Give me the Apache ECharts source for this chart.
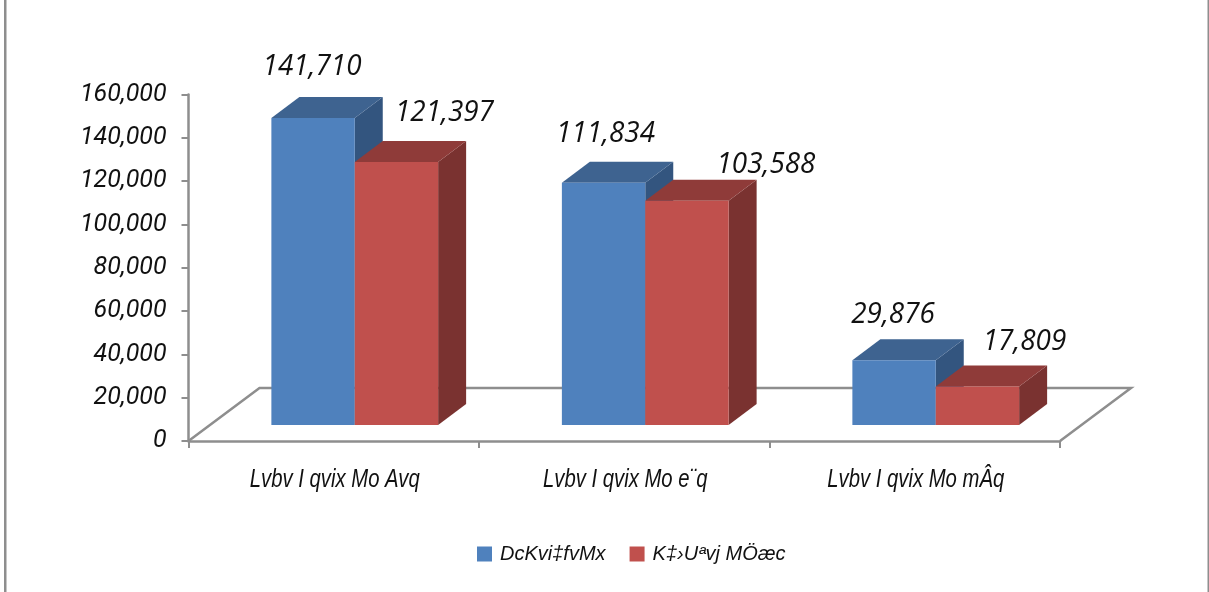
<!DOCTYPE html>
<html><head><meta charset="utf-8">
<style>html,body{margin:0;padding:0;background:#fff}#c{width:1209px;height:592px}</style>
<script src="https://cdn.jsdelivr.net/npm/echarts@6/dist/echarts.min.js"></script>
</head><body><div id="c"></div>
<script>
const categories = ['Lvbv I qvix Mo Avq', 'Lvbv I qvix Mo e¨q', 'Lvbv I qvix Mo mÂq'];
const beneficiary = [141710, 111834, 29876];
const control = [121397, 103588, 17809];
const seriesNames = ['DcKvi‡fvMx', 'K‡›Uªvj MÖæc'];
const yTicks = {min: 0, max: 160000, interval: 20000};

// layout of the pseudo-3D look, in pixels
const GREY = '#8e8e8e';
const floorDx = 71, floorDy = 53;
const depthDx = 28, depthDy = 21;
const baseDx = 21, baseDy = 16;
const barRatio = 0.287;
const blueNudge = [[-1, -51], [2, -49], [-1, -46]];
const redNudge = [[48, -49], [79, -36], [47, -45]];

function barItem(side, colors, nudges) {
  return function (params, api) {
    const i = api.value(0), v = api.value(1);
    const p = api.coord([i, v]), o = api.coord([i, 0]);
    const w = api.size([1, 0])[0] * barRatio;
    const x0 = p[0] + baseDx + (side < 0 ? -w : 0), x1 = x0 + w;
    const yT = p[1] - baseDy, yB = o[1] - baseDy;
    const poly = (pts, fill) => ({type: 'polygon', shape: {points: pts}, style: {fill: fill}});
    return {type: 'group', children: [
      poly([[x1, yT], [x1 + depthDx, yT - depthDy], [x1 + depthDx, yB - depthDy], [x1, yB]], colors[2]),
      poly([[x0, yT], [x0 + depthDx, yT - depthDy], [x1 + depthDx, yT - depthDy], [x1, yT]], colors[1]),
      {type: 'rect', shape: {x: x0, y: yT, width: w, height: yB - yT}, style: {fill: colors[0]}},
      {type: 'text', x: (x0 + x1) / 2 + nudges[i][0], y: yT + nudges[i][1], scaleX: 0.96,
        style: {text: v.toLocaleString('en-US'), fill: '#111', align: 'center', verticalAlign: 'middle',
          font: 'italic 29px "Open Sans"'}}
    ]};
  };
}
function floorItem(params, api) {
  const c = params.coordSys;
  const L = c.x, R = c.x + c.width, B = c.y + c.height;
  return {type: 'polyline', shape: {points: [[L, B], [L + floorDx, B - floorDy], [R + floorDx, B - floorDy], [R, B]]},
    style: {stroke: GREY, lineWidth: 2.5, fill: null}};
}
// condensed category labels: the original face is narrow, so the text is squeezed horizontally
function catLabelItem(params, api) {
  const i = api.value(0);
  const p = api.coord([i, 0]);
  return {type: 'text', x: p[0] + 1, y: p[1] + 39, scaleX: 0.78,
    style: {text: categories[i], fill: '#111', align: 'center', verticalAlign: 'middle',
      font: 'italic 26px "Liberation Sans"'}};
}
const toRows = arr => arr.map((v, i) => [i, v]);

const chart = echarts.init(document.getElementById('c'), null, {renderer: 'canvas'});
chart.setOption({
  animation: false,
  backgroundColor: '#fff',
  grid: {left: 188.5, right: 149, top: 94.5, bottom: 151, containLabel: false},
  xAxis: {type: 'category', data: categories,
    axisLine: {lineStyle: {color: GREY, width: 2.5}},
    axisTick: {show: true, length: 7, lineStyle: {color: GREY, width: 2}},
    axisLabel: {show: false}},
  yAxis: {type: 'value', min: yTicks.min, max: yTicks.max, interval: yTicks.interval,
    splitLine: {show: false},
    axisLine: {show: true, lineStyle: {color: GREY, width: 2.5}},
    axisTick: {show: true, length: 7, lineStyle: {color: GREY, width: 2}},
    axisLabel: {color: '#111', fontFamily: 'Roboto', fontStyle: 'italic', fontSize: 25, margin: 22, padding: [2, 0, 0, 0]}},
  legend: {data: seriesNames, left: 472, top: 539, itemWidth: 15, itemHeight: 15, itemGap: 24, icon: 'rect',
    textStyle: {color: '#111', fontFamily: '"Liberation Sans"', fontStyle: 'italic', fontSize: 20, padding: [0, 0, 0, 3]}},
  graphic: [
    {type: 'rect', left: 4, top: 0, shape: {width: 2.5, height: 592}, style: {fill: GREY}},
    {type: 'rect', left: 1207.5, top: 0, shape: {width: 1.5, height: 592}, style: {fill: GREY}}
  ],
  series: [
    {type: 'custom', name: 'floor', silent: true, clip: false, data: [[0, 0]], encode: {x: 0, y: 1}, renderItem: floorItem, z: 1},
    {type: 'custom', name: seriesNames[0], clip: false, data: toRows(beneficiary), encode: {x: 0, y: 1}, itemStyle: {color: '#4f81bd'},
      renderItem: barItem(-1, ['#4f81bd', '#3e6390', '#33557f'], blueNudge), z: 2},
    {type: 'custom', name: seriesNames[1], clip: false, data: toRows(control), encode: {x: 0, y: 1}, itemStyle: {color: '#c0504d'},
      renderItem: barItem(1, ['#c0504d', '#8f3b39', '#7a3230'], redNudge), z: 3},
    {type: 'custom', name: 'categoryLabels', silent: true, clip: false, data: toRows(categories.map(() => 0)), encode: {x: 0, y: 1}, renderItem: catLabelItem, z: 4}
  ]
});
</script></body></html>
